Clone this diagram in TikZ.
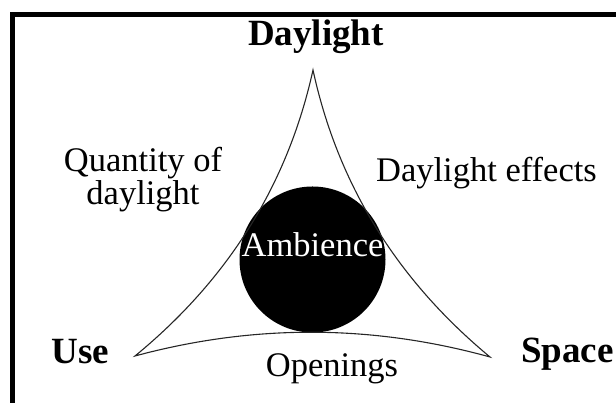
\documentclass[tikz,border=0pt]{standalone}
\usepackage{fontspec}
\setmainfont{Liberation Serif}
\begin{document}
\begin{tikzpicture}[x=1pt,y=1pt,line width=1.1pt]
\providecommand{\freg}{\fontsize{34.5}{33}\selectfont}
\providecommand{\fbold}{\fontsize{37}{40}\selectfont\bfseries}
\tikzset{lbl/.style={anchor=base,inner sep=0pt,font=\freg},corner/.style={anchor=base,inner sep=0pt,font=\fbold},side/.style={draw=black!85,line width=1.1pt,line join=miter}}
\useasboundingbox (0,0) rectangle (616,403);
\draw[line width=5pt] (12.5,0) -- (12.5,388) -- (616,388);
% corners of the curved triangle
\coordinate (dl) at (313,333);
\coordinate (us) at (135,47);
\coordinate (sp) at (490,46);
\fill[black] (312.5,143.5) circle (73);
\draw[side] (dl) .. controls (287.9,219.1) and (228.6,123.8) .. (us)
  .. controls (253.3,79.0) and (371.7,78.7) .. (sp)
  .. controls (396.7,123.3) and (337.7,219.0) .. cycle;
\node[corner] (daylight) at (316,357) {Daylight};
\node[corner] (use) at (80.5,39) {Use};
\node[corner] (space) at (567.5,40) {Space};
\node[lbl,align=center] (quantity) at (143,198) {Quantity of\\daylight};
\node[lbl] (effects) at (486.5,221) {Daylight effects};
\node[lbl] (openings) at (332,26) {Openings};
\node[lbl,text=white] (ambience) at (312.5,146) {Ambience};
\end{tikzpicture}
\end{document}
